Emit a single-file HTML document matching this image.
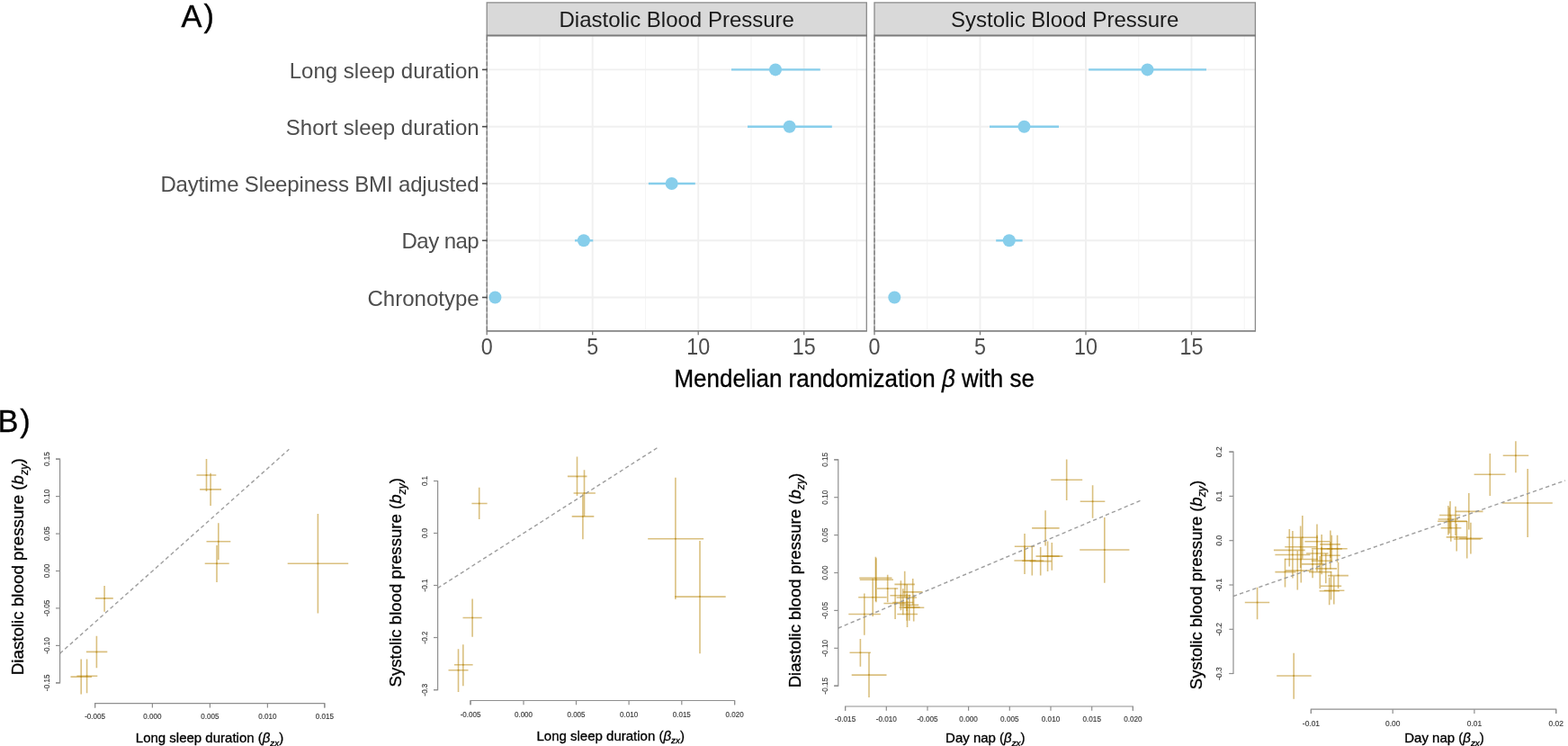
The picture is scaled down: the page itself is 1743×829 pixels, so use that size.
<!DOCTYPE html>
<html lang="en">
<head>
<meta charset="utf-8">
<title>Mendelian randomization of sleep traits and blood pressure</title>
<style>
html,body{margin:0;padding:0;background:#fff;}
body{width:1743px;height:829px;overflow:hidden;}
svg{display:block;}
text{font-family:"Liberation Sans",sans-serif;}
</style>
</head>
<body>
<svg width="1743" height="829" viewBox="0 0 1743 829" font-family='"Liberation Sans", sans-serif'>
<rect width="1743" height="829" fill="#fff"/>
<g id="panel-a">
<rect x="541.2" y="39.4" width="422.1" height="328.5" fill="#fff"/>
<line x1="600.0" y1="39.4" x2="600.0" y2="367.9" stroke="#f5f5f5" stroke-width="1.1"/>
<line x1="717.5" y1="39.4" x2="717.5" y2="367.9" stroke="#f5f5f5" stroke-width="1.1"/>
<line x1="835.0" y1="39.4" x2="835.0" y2="367.9" stroke="#f5f5f5" stroke-width="1.1"/>
<line x1="952.5" y1="39.4" x2="952.5" y2="367.9" stroke="#f5f5f5" stroke-width="1.1"/>
<line x1="658.7" y1="39.4" x2="658.7" y2="367.9" stroke="#f0f0f0" stroke-width="1.9"/>
<line x1="776.2" y1="39.4" x2="776.2" y2="367.9" stroke="#f0f0f0" stroke-width="1.9"/>
<line x1="893.7" y1="39.4" x2="893.7" y2="367.9" stroke="#f0f0f0" stroke-width="1.9"/>
<line x1="541.2" y1="77.4" x2="963.3" y2="77.4" stroke="#f0f0f0" stroke-width="1.9"/>
<line x1="541.2" y1="140.7" x2="963.3" y2="140.7" stroke="#f0f0f0" stroke-width="1.9"/>
<line x1="541.2" y1="204.0" x2="963.3" y2="204.0" stroke="#f0f0f0" stroke-width="1.9"/>
<line x1="541.2" y1="267.3" x2="963.3" y2="267.3" stroke="#f0f0f0" stroke-width="1.9"/>
<line x1="541.2" y1="330.5" x2="963.3" y2="330.5" stroke="#f0f0f0" stroke-width="1.9"/>
<rect x="541.2" y="2.8" width="422.1" height="36.6" fill="#d9d9d9"/>
<path d="M541.2 39.4V2.8H963.3V367.9" fill="none" stroke="#8a8a8a" stroke-width="1.3"/>
<line x1="541.2" y1="39.4" x2="541.2" y2="367.9" stroke="#808080" stroke-width="1"/>
<line x1="540.6" y1="39.4" x2="963.9" y2="39.4" stroke="#7a7a7a" stroke-width="2"/>
<line x1="540.7" y1="367.9" x2="963.9" y2="367.9" stroke="#858585" stroke-width="1.7"/>
<line x1="541.2" y1="40.4" x2="541.2" y2="367.9" stroke="#555" stroke-width="0.8" stroke-dasharray="5 2"/>
<line x1="541.2" y1="367.9" x2="541.2" y2="372.29999999999995" stroke="#7a7a7a" stroke-width="1.3"/>
<text transform="translate(541.2 394.3) scale(0.97 1.05)" font-size="24" fill="#4d4d4d" text-anchor="middle">0</text>
<line x1="658.7" y1="367.9" x2="658.7" y2="372.29999999999995" stroke="#7a7a7a" stroke-width="1.3"/>
<text transform="translate(658.7 394.3) scale(0.97 1.05)" font-size="24" fill="#4d4d4d" text-anchor="middle">5</text>
<line x1="776.2" y1="367.9" x2="776.2" y2="372.29999999999995" stroke="#7a7a7a" stroke-width="1.3"/>
<text transform="translate(776.2 394.3) scale(0.97 1.05)" font-size="24" fill="#4d4d4d" text-anchor="middle">10</text>
<line x1="893.7" y1="367.9" x2="893.7" y2="372.29999999999995" stroke="#7a7a7a" stroke-width="1.3"/>
<text transform="translate(893.7 394.3) scale(0.97 1.05)" font-size="24" fill="#4d4d4d" text-anchor="middle">15</text>
<rect x="972.0" y="39.4" width="423.4" height="328.5" fill="#fff"/>
<line x1="1030.8" y1="39.4" x2="1030.8" y2="367.9" stroke="#f5f5f5" stroke-width="1.1"/>
<line x1="1148.2" y1="39.4" x2="1148.2" y2="367.9" stroke="#f5f5f5" stroke-width="1.1"/>
<line x1="1265.8" y1="39.4" x2="1265.8" y2="367.9" stroke="#f5f5f5" stroke-width="1.1"/>
<line x1="1383.2" y1="39.4" x2="1383.2" y2="367.9" stroke="#f5f5f5" stroke-width="1.1"/>
<line x1="1089.5" y1="39.4" x2="1089.5" y2="367.9" stroke="#f0f0f0" stroke-width="1.9"/>
<line x1="1207.0" y1="39.4" x2="1207.0" y2="367.9" stroke="#f0f0f0" stroke-width="1.9"/>
<line x1="1324.5" y1="39.4" x2="1324.5" y2="367.9" stroke="#f0f0f0" stroke-width="1.9"/>
<line x1="972.0" y1="77.4" x2="1395.4" y2="77.4" stroke="#f0f0f0" stroke-width="1.9"/>
<line x1="972.0" y1="140.7" x2="1395.4" y2="140.7" stroke="#f0f0f0" stroke-width="1.9"/>
<line x1="972.0" y1="204.0" x2="1395.4" y2="204.0" stroke="#f0f0f0" stroke-width="1.9"/>
<line x1="972.0" y1="267.3" x2="1395.4" y2="267.3" stroke="#f0f0f0" stroke-width="1.9"/>
<line x1="972.0" y1="330.5" x2="1395.4" y2="330.5" stroke="#f0f0f0" stroke-width="1.9"/>
<rect x="972.0" y="2.8" width="423.4" height="36.6" fill="#d9d9d9"/>
<path d="M972.0 39.4V2.8H1395.4V367.9" fill="none" stroke="#8a8a8a" stroke-width="1.3"/>
<line x1="972.0" y1="39.4" x2="972.0" y2="367.9" stroke="#808080" stroke-width="1"/>
<line x1="971.4" y1="39.4" x2="1396.0" y2="39.4" stroke="#7a7a7a" stroke-width="2"/>
<line x1="971.5" y1="367.9" x2="1396.0" y2="367.9" stroke="#858585" stroke-width="1.7"/>
<line x1="972.0" y1="40.4" x2="972.0" y2="367.9" stroke="#555" stroke-width="0.8" stroke-dasharray="5 2"/>
<line x1="972.0" y1="367.9" x2="972.0" y2="372.29999999999995" stroke="#7a7a7a" stroke-width="1.3"/>
<text transform="translate(972.0 394.3) scale(0.97 1.05)" font-size="24" fill="#4d4d4d" text-anchor="middle">0</text>
<line x1="1089.5" y1="367.9" x2="1089.5" y2="372.29999999999995" stroke="#7a7a7a" stroke-width="1.3"/>
<text transform="translate(1089.5 394.3) scale(0.97 1.05)" font-size="24" fill="#4d4d4d" text-anchor="middle">5</text>
<line x1="1207.0" y1="367.9" x2="1207.0" y2="372.29999999999995" stroke="#7a7a7a" stroke-width="1.3"/>
<text transform="translate(1207.0 394.3) scale(0.97 1.05)" font-size="24" fill="#4d4d4d" text-anchor="middle">10</text>
<line x1="1324.5" y1="367.9" x2="1324.5" y2="372.29999999999995" stroke="#7a7a7a" stroke-width="1.3"/>
<text transform="translate(1324.5 394.3) scale(0.97 1.05)" font-size="24" fill="#4d4d4d" text-anchor="middle">15</text>
<line x1="536.0" y1="77.4" x2="541.6" y2="77.4" stroke="#4d4d4d" stroke-width="1.6"/>
<text x="532.6" y="86.5" font-size="24" fill="#4d4d4d" text-anchor="end">Long sleep duration</text>
<line x1="536.0" y1="140.7" x2="541.6" y2="140.7" stroke="#4d4d4d" stroke-width="1.6"/>
<text x="532.6" y="149.8" font-size="24" fill="#4d4d4d" text-anchor="end">Short sleep duration</text>
<line x1="536.0" y1="204.0" x2="541.6" y2="204.0" stroke="#4d4d4d" stroke-width="1.6"/>
<text x="532.6" y="213.1" font-size="24" fill="#4d4d4d" text-anchor="end" textLength="354.2" lengthAdjust="spacing">Daytime Sleepiness BMI adjusted</text>
<line x1="536.0" y1="267.3" x2="541.6" y2="267.3" stroke="#4d4d4d" stroke-width="1.6"/>
<text x="532.6" y="276.4" font-size="24" fill="#4d4d4d" text-anchor="end" textLength="86.0" lengthAdjust="spacing">Day nap</text>
<line x1="536.0" y1="330.5" x2="541.6" y2="330.5" stroke="#4d4d4d" stroke-width="1.6"/>
<text x="532.6" y="339.6" font-size="24" fill="#4d4d4d" text-anchor="end">Chronotype</text>
<text x="752.2" y="30.4" font-size="24" fill="#1a1a1a" text-anchor="middle">Diastolic Blood Pressure</text>
<text x="1183.7" y="30.4" font-size="24" fill="#1a1a1a" text-anchor="middle">Systolic Blood Pressure</text>
<line x1="813.0" y1="77.4" x2="911.8" y2="77.4" stroke="#87ceeb" stroke-width="2.4"/>
<circle cx="862.0" cy="77.4" r="7" fill="#87ceeb"/>
<line x1="831.0" y1="140.7" x2="924.8" y2="140.7" stroke="#87ceeb" stroke-width="2.4"/>
<circle cx="877.6" cy="140.7" r="7" fill="#87ceeb"/>
<line x1="720.9" y1="204.0" x2="772.8" y2="204.0" stroke="#87ceeb" stroke-width="2.4"/>
<circle cx="746.7" cy="204.0" r="7" fill="#87ceeb"/>
<line x1="639.0" y1="267.3" x2="659.3" y2="267.3" stroke="#87ceeb" stroke-width="2.4"/>
<circle cx="648.9" cy="267.3" r="7" fill="#87ceeb"/>
<circle cx="550.4" cy="330.5" r="7" fill="#87ceeb"/>
<line x1="1210.2" y1="77.4" x2="1341.0" y2="77.4" stroke="#87ceeb" stroke-width="2.4"/>
<circle cx="1275.5" cy="77.4" r="7" fill="#87ceeb"/>
<line x1="1100.0" y1="140.7" x2="1177.0" y2="140.7" stroke="#87ceeb" stroke-width="2.4"/>
<circle cx="1138.5" cy="140.7" r="7" fill="#87ceeb"/>
<line x1="1107.2" y1="267.3" x2="1136.6" y2="267.3" stroke="#87ceeb" stroke-width="2.4"/>
<circle cx="1121.8" cy="267.3" r="7" fill="#87ceeb"/>
<circle cx="994.3" cy="330.5" r="7" fill="#87ceeb"/>
<text transform="translate(949.7 429.7) scale(1 1.03)" font-size="26" fill="#000" stroke="#000" stroke-width="0.3" text-anchor="middle">Mendelian randomization <tspan font-style="italic">β</tspan> with se</text>
<text transform="translate(201.6 29.9) scale(1 1.045)" font-size="34.4" fill="#000" stroke="#000" stroke-width="0.35">A<tspan dx="2">)</tspan></text>
</g>
<g id="panel-b">
<text transform="translate(-2.6 480.3) scale(1 1.045)" font-size="34.4" fill="#000" stroke="#000" stroke-width="0.35">B<tspan dx="1.8">)</tspan></text>
<g>
<path d="M62.0 510.1H66.6V758.8H62.0" fill="none" stroke="#8f8f8f" stroke-width="1.2"/>
<line x1="62.0" y1="510.1" x2="66.6" y2="510.1" stroke="#8f8f8f" stroke-width="1.2"/>
<text transform="translate(55.3 510.1) rotate(-90) scale(1 1.06)" font-size="8.1" fill="#3a3a3a" stroke="#3a3a3a" stroke-width="0.15" text-anchor="middle">0.15</text>
<line x1="62.0" y1="551.6" x2="66.6" y2="551.6" stroke="#8f8f8f" stroke-width="1.2"/>
<text transform="translate(55.3 551.6) rotate(-90) scale(1 1.06)" font-size="8.1" fill="#3a3a3a" stroke="#3a3a3a" stroke-width="0.15" text-anchor="middle">0.10</text>
<line x1="62.0" y1="593.1" x2="66.6" y2="593.1" stroke="#8f8f8f" stroke-width="1.2"/>
<text transform="translate(55.3 593.1) rotate(-90) scale(1 1.06)" font-size="8.1" fill="#3a3a3a" stroke="#3a3a3a" stroke-width="0.15" text-anchor="middle">0.05</text>
<line x1="62.0" y1="634.5" x2="66.6" y2="634.5" stroke="#8f8f8f" stroke-width="1.2"/>
<text transform="translate(55.3 634.5) rotate(-90) scale(1 1.06)" font-size="8.1" fill="#3a3a3a" stroke="#3a3a3a" stroke-width="0.15" text-anchor="middle">0.00</text>
<line x1="62.0" y1="675.9" x2="66.6" y2="675.9" stroke="#8f8f8f" stroke-width="1.2"/>
<text transform="translate(55.3 675.9) rotate(-90) scale(1 1.06)" font-size="8.1" fill="#3a3a3a" stroke="#3a3a3a" stroke-width="0.15" text-anchor="middle">-0.05</text>
<line x1="62.0" y1="717.4" x2="66.6" y2="717.4" stroke="#8f8f8f" stroke-width="1.2"/>
<text transform="translate(55.3 717.4) rotate(-90) scale(1 1.06)" font-size="8.1" fill="#3a3a3a" stroke="#3a3a3a" stroke-width="0.15" text-anchor="middle">-0.10</text>
<line x1="62.0" y1="758.8" x2="66.6" y2="758.8" stroke="#8f8f8f" stroke-width="1.2"/>
<text transform="translate(55.3 758.8) rotate(-90) scale(1 1.06)" font-size="8.1" fill="#3a3a3a" stroke="#3a3a3a" stroke-width="0.15" text-anchor="middle">-0.15</text>
<path d="M105.6 786.5V781.7H360.8V786.5" fill="none" stroke="#8f8f8f" stroke-width="1.2"/>
<line x1="105.6" y1="781.7" x2="105.6" y2="786.5" stroke="#8f8f8f" stroke-width="1.2"/>
<text transform="translate(105.6 798.9) scale(1 1.06)" font-size="8.1" fill="#3a3a3a" stroke="#3a3a3a" stroke-width="0.15" text-anchor="middle">-0.005</text>
<line x1="169.4" y1="781.7" x2="169.4" y2="786.5" stroke="#8f8f8f" stroke-width="1.2"/>
<text transform="translate(169.4 798.9) scale(1 1.06)" font-size="8.1" fill="#3a3a3a" stroke="#3a3a3a" stroke-width="0.15" text-anchor="middle">0.000</text>
<line x1="233.4" y1="781.7" x2="233.4" y2="786.5" stroke="#8f8f8f" stroke-width="1.2"/>
<text transform="translate(233.4 798.9) scale(1 1.06)" font-size="8.1" fill="#3a3a3a" stroke="#3a3a3a" stroke-width="0.15" text-anchor="middle">0.005</text>
<line x1="297.4" y1="781.7" x2="297.4" y2="786.5" stroke="#8f8f8f" stroke-width="1.2"/>
<text transform="translate(297.4 798.9) scale(1 1.06)" font-size="8.1" fill="#3a3a3a" stroke="#3a3a3a" stroke-width="0.15" text-anchor="middle">0.010</text>
<line x1="360.8" y1="781.7" x2="360.8" y2="786.5" stroke="#8f8f8f" stroke-width="1.2"/>
<text transform="translate(360.8 798.9) scale(1 1.06)" font-size="8.1" fill="#3a3a3a" stroke="#3a3a3a" stroke-width="0.15" text-anchor="middle">0.015</text>
<g stroke="#b8860b" stroke-width="1.6" stroke-opacity="0.52" fill="#b8860b" fill-opacity="0.75">
<path d="M218.5 528.0H240.3M229.5 510.1V545.9"/>
<path d="M222.1 543.9H246.0M234.1 525.7V562.0"/>
<path d="M229.5 601.7H256.3M242.8 581.3V622.1"/>
<path d="M227.7 626.2H254.7M241.0 606.1V647.0"/>
<path d="M319.7 626.2H387.2M353.4 570.9V681.5"/>
<path d="M106.0 664.9H125.8M116.1 650.9V679.8"/>
<path d="M95.9 724.4H119.3M107.4 706.7V742.3"/>
<path d="M78.5 752.1H102.1M90.2 732.6V771.6"/>
<path d="M85.4 751.2H108.3M96.6 732.6V770.3"/>
<circle cx="229.5" cy="528.0" r="1.0" stroke="none"/>
<circle cx="234.1" cy="543.9" r="1.0" stroke="none"/>
<circle cx="242.8" cy="601.7" r="1.0" stroke="none"/>
<circle cx="241.0" cy="626.2" r="1.0" stroke="none"/>
<circle cx="353.4" cy="626.2" r="1.0" stroke="none"/>
<circle cx="116.1" cy="664.9" r="1.0" stroke="none"/>
<circle cx="107.4" cy="724.4" r="1.0" stroke="none"/>
<circle cx="90.2" cy="752.1" r="1.0" stroke="none"/>
<circle cx="96.6" cy="751.2" r="1.0" stroke="none"/>
</g>
<line x1="66.6" y1="726.2" x2="321.3" y2="499.3" stroke="#949494" stroke-opacity="0.9" stroke-width="1.4" stroke-dasharray="4.3 3.2"/>
<text x="233.0" y="825.0" font-size="15" fill="#000" stroke="#000" stroke-width="0.32" text-anchor="middle">Long sleep duration (<tspan font-style="italic">β</tspan><tspan font-style="italic" font-size="9.9" dy="3.6">zx</tspan><tspan dy="-3.6">)</tspan></text>
<text transform="translate(26.4 629.8) rotate(-90)" font-size="18.8" fill="#000" stroke="#000" stroke-width="0.3" text-anchor="middle">Diastolic blood pressure (<tspan font-style="italic">b</tspan><tspan font-style="italic" font-size="12.4" dy="4.5">zy</tspan><tspan dy="-4.5">)</tspan></text>
</g>
<g>
<path d="M482.0 534.5H486.6V766.6H482.0" fill="none" stroke="#8f8f8f" stroke-width="1.2"/>
<line x1="482.0" y1="534.5" x2="486.6" y2="534.5" stroke="#8f8f8f" stroke-width="1.2"/>
<text transform="translate(475.3 534.5) rotate(-90) scale(1 1.06)" font-size="8.0" fill="#3a3a3a" stroke="#3a3a3a" stroke-width="0.15" text-anchor="middle">0.1</text>
<line x1="482.0" y1="592.5" x2="486.6" y2="592.5" stroke="#8f8f8f" stroke-width="1.2"/>
<text transform="translate(475.3 592.5) rotate(-90) scale(1 1.06)" font-size="8.0" fill="#3a3a3a" stroke="#3a3a3a" stroke-width="0.15" text-anchor="middle">0.0</text>
<line x1="482.0" y1="650.5" x2="486.6" y2="650.5" stroke="#8f8f8f" stroke-width="1.2"/>
<text transform="translate(475.3 650.5) rotate(-90) scale(1 1.06)" font-size="8.0" fill="#3a3a3a" stroke="#3a3a3a" stroke-width="0.15" text-anchor="middle">-0.1</text>
<line x1="482.0" y1="708.5" x2="486.6" y2="708.5" stroke="#8f8f8f" stroke-width="1.2"/>
<text transform="translate(475.3 708.5) rotate(-90) scale(1 1.06)" font-size="8.0" fill="#3a3a3a" stroke="#3a3a3a" stroke-width="0.15" text-anchor="middle">-0.2</text>
<line x1="482.0" y1="766.6" x2="486.6" y2="766.6" stroke="#8f8f8f" stroke-width="1.2"/>
<text transform="translate(475.3 766.6) rotate(-90) scale(1 1.06)" font-size="8.0" fill="#3a3a3a" stroke="#3a3a3a" stroke-width="0.15" text-anchor="middle">-0.3</text>
<path d="M523.0 783.3V778.5H816.6V783.3" fill="none" stroke="#8f8f8f" stroke-width="1.2"/>
<line x1="523.0" y1="778.5" x2="523.0" y2="783.3" stroke="#8f8f8f" stroke-width="1.2"/>
<text transform="translate(523.0 796.6) scale(1 1.06)" font-size="8.0" fill="#3a3a3a" stroke="#3a3a3a" stroke-width="0.15" text-anchor="middle">-0.005</text>
<line x1="582.0" y1="778.5" x2="582.0" y2="783.3" stroke="#8f8f8f" stroke-width="1.2"/>
<text transform="translate(582.0 796.6) scale(1 1.06)" font-size="8.0" fill="#3a3a3a" stroke="#3a3a3a" stroke-width="0.15" text-anchor="middle">0.000</text>
<line x1="640.5" y1="778.5" x2="640.5" y2="783.3" stroke="#8f8f8f" stroke-width="1.2"/>
<text transform="translate(640.5 796.6) scale(1 1.06)" font-size="8.0" fill="#3a3a3a" stroke="#3a3a3a" stroke-width="0.15" text-anchor="middle">0.005</text>
<line x1="699.1" y1="778.5" x2="699.1" y2="783.3" stroke="#8f8f8f" stroke-width="1.2"/>
<text transform="translate(699.1 796.6) scale(1 1.06)" font-size="8.0" fill="#3a3a3a" stroke="#3a3a3a" stroke-width="0.15" text-anchor="middle">0.010</text>
<line x1="757.8" y1="778.5" x2="757.8" y2="783.3" stroke="#8f8f8f" stroke-width="1.2"/>
<text transform="translate(757.8 796.6) scale(1 1.06)" font-size="8.0" fill="#3a3a3a" stroke="#3a3a3a" stroke-width="0.15" text-anchor="middle">0.015</text>
<line x1="816.6" y1="778.5" x2="816.6" y2="783.3" stroke="#8f8f8f" stroke-width="1.2"/>
<text transform="translate(816.6 796.6) scale(1 1.06)" font-size="8.0" fill="#3a3a3a" stroke="#3a3a3a" stroke-width="0.15" text-anchor="middle">0.020</text>
<g stroke="#b8860b" stroke-width="1.6" stroke-opacity="0.52" fill="#b8860b" fill-opacity="0.75">
<path d="M524.4 559.5H541.6M532.7 541.8V576.9"/>
<path d="M630.9 529.4H652.5M641.5 507.4V551.0"/>
<path d="M637.6 548.0H661.9M649.5 522.3V573.9"/>
<path d="M635.7 573.9H660.3M647.9 548.7V599.2"/>
<path d="M720.2 598.7H782.1M750.9 530.8V666.1"/>
<path d="M750.0 663.1H806.7M778.0 601.0V726.2"/>
<path d="M514.5 686.5H535.7M525.1 665.4V707.8"/>
<path d="M504.9 738.8H525.6M514.8 716.3V762.2"/>
<path d="M498.5 744.8H520.5M509.5 721.2V769.1"/>
<circle cx="532.7" cy="559.5" r="1.0" stroke="none"/>
<circle cx="641.5" cy="529.4" r="1.0" stroke="none"/>
<circle cx="649.5" cy="548.0" r="1.0" stroke="none"/>
<circle cx="647.9" cy="573.9" r="1.0" stroke="none"/>
<circle cx="750.9" cy="598.7" r="1.0" stroke="none"/>
<circle cx="778.0" cy="663.1" r="1.0" stroke="none"/>
<circle cx="525.1" cy="686.5" r="1.0" stroke="none"/>
<circle cx="514.8" cy="738.8" r="1.0" stroke="none"/>
<circle cx="509.5" cy="744.8" r="1.0" stroke="none"/>
</g>
<line x1="486.6" y1="653.5" x2="731.6" y2="497.0" stroke="#949494" stroke-opacity="0.9" stroke-width="1.4" stroke-dasharray="4.3 3.2"/>
<text x="678.7" y="822.6" font-size="15" fill="#000" stroke="#000" stroke-width="0.32" text-anchor="middle">Long sleep duration (<tspan font-style="italic">β</tspan><tspan font-style="italic" font-size="9.9" dy="3.6">zx</tspan><tspan dy="-3.6">)</tspan></text>
<text transform="translate(446.2 647.2) rotate(-90)" font-size="18.6" fill="#000" stroke="#000" stroke-width="0.3" text-anchor="middle">Systolic blood pressure (<tspan font-style="italic">b</tspan><tspan font-style="italic" font-size="12.3" dy="4.5">zy</tspan><tspan dy="-4.5">)</tspan></text>
</g>
<g>
<path d="M927.2 510.8H931.8V762.2H927.2" fill="none" stroke="#8f8f8f" stroke-width="1.2"/>
<line x1="927.2" y1="510.8" x2="931.8" y2="510.8" stroke="#8f8f8f" stroke-width="1.2"/>
<text transform="translate(919.9 510.8) rotate(-90) scale(1 1.06)" font-size="8.2" fill="#3a3a3a" stroke="#3a3a3a" stroke-width="0.15" text-anchor="middle">0.15</text>
<line x1="927.2" y1="552.7" x2="931.8" y2="552.7" stroke="#8f8f8f" stroke-width="1.2"/>
<text transform="translate(919.9 552.7) rotate(-90) scale(1 1.06)" font-size="8.2" fill="#3a3a3a" stroke="#3a3a3a" stroke-width="0.15" text-anchor="middle">0.10</text>
<line x1="927.2" y1="594.6" x2="931.8" y2="594.6" stroke="#8f8f8f" stroke-width="1.2"/>
<text transform="translate(919.9 594.6) rotate(-90) scale(1 1.06)" font-size="8.2" fill="#3a3a3a" stroke="#3a3a3a" stroke-width="0.15" text-anchor="middle">0.05</text>
<line x1="927.2" y1="636.5" x2="931.8" y2="636.5" stroke="#8f8f8f" stroke-width="1.2"/>
<text transform="translate(919.9 636.5) rotate(-90) scale(1 1.06)" font-size="8.2" fill="#3a3a3a" stroke="#3a3a3a" stroke-width="0.15" text-anchor="middle">0.00</text>
<line x1="927.2" y1="678.4" x2="931.8" y2="678.4" stroke="#8f8f8f" stroke-width="1.2"/>
<text transform="translate(919.9 678.4) rotate(-90) scale(1 1.06)" font-size="8.2" fill="#3a3a3a" stroke="#3a3a3a" stroke-width="0.15" text-anchor="middle">-0.05</text>
<line x1="927.2" y1="720.3" x2="931.8" y2="720.3" stroke="#8f8f8f" stroke-width="1.2"/>
<text transform="translate(919.9 720.3) rotate(-90) scale(1 1.06)" font-size="8.2" fill="#3a3a3a" stroke="#3a3a3a" stroke-width="0.15" text-anchor="middle">-0.10</text>
<line x1="927.2" y1="762.2" x2="931.8" y2="762.2" stroke="#8f8f8f" stroke-width="1.2"/>
<text transform="translate(919.9 762.2) rotate(-90) scale(1 1.06)" font-size="8.2" fill="#3a3a3a" stroke="#3a3a3a" stroke-width="0.15" text-anchor="middle">-0.15</text>
<path d="M939.6 789.8V785.0H1259.4V789.8" fill="none" stroke="#8f8f8f" stroke-width="1.2"/>
<line x1="939.6" y1="785.0" x2="939.6" y2="789.8" stroke="#8f8f8f" stroke-width="1.2"/>
<text transform="translate(939.6 802.3) scale(1 1.06)" font-size="8.2" fill="#3a3a3a" stroke="#3a3a3a" stroke-width="0.15" text-anchor="middle">-0.015</text>
<line x1="985.3" y1="785.0" x2="985.3" y2="789.8" stroke="#8f8f8f" stroke-width="1.2"/>
<text transform="translate(985.3 802.3) scale(1 1.06)" font-size="8.2" fill="#3a3a3a" stroke="#3a3a3a" stroke-width="0.15" text-anchor="middle">-0.010</text>
<line x1="1031.0" y1="785.0" x2="1031.0" y2="789.8" stroke="#8f8f8f" stroke-width="1.2"/>
<text transform="translate(1031.0 802.3) scale(1 1.06)" font-size="8.2" fill="#3a3a3a" stroke="#3a3a3a" stroke-width="0.15" text-anchor="middle">-0.005</text>
<line x1="1076.6" y1="785.0" x2="1076.6" y2="789.8" stroke="#8f8f8f" stroke-width="1.2"/>
<text transform="translate(1076.6 802.3) scale(1 1.06)" font-size="8.2" fill="#3a3a3a" stroke="#3a3a3a" stroke-width="0.15" text-anchor="middle">0.000</text>
<line x1="1122.3" y1="785.0" x2="1122.3" y2="789.8" stroke="#8f8f8f" stroke-width="1.2"/>
<text transform="translate(1122.3 802.3) scale(1 1.06)" font-size="8.2" fill="#3a3a3a" stroke="#3a3a3a" stroke-width="0.15" text-anchor="middle">0.005</text>
<line x1="1168.0" y1="785.0" x2="1168.0" y2="789.8" stroke="#8f8f8f" stroke-width="1.2"/>
<text transform="translate(1168.0 802.3) scale(1 1.06)" font-size="8.2" fill="#3a3a3a" stroke="#3a3a3a" stroke-width="0.15" text-anchor="middle">0.010</text>
<line x1="1213.7" y1="785.0" x2="1213.7" y2="789.8" stroke="#8f8f8f" stroke-width="1.2"/>
<text transform="translate(1213.7 802.3) scale(1 1.06)" font-size="8.2" fill="#3a3a3a" stroke="#3a3a3a" stroke-width="0.15" text-anchor="middle">0.015</text>
<line x1="1259.4" y1="785.0" x2="1259.4" y2="789.8" stroke="#8f8f8f" stroke-width="1.2"/>
<text transform="translate(1259.4 802.3) scale(1 1.06)" font-size="8.2" fill="#3a3a3a" stroke="#3a3a3a" stroke-width="0.15" text-anchor="middle">0.020</text>
<g stroke="#b8860b" stroke-width="1.6" stroke-opacity="0.52" fill="#b8860b" fill-opacity="0.75">
<path d="M955.3 642.4H991.5M973.4 618.8V668.0"/>
<path d="M955.8 644.2H993.0M973.9 620.3V669.2"/>
<path d="M974.9 654.0H998.3M986.7 638.8V669.2"/>
<path d="M954.2 663.8H985.7M970.2 642.7V685.1"/>
<path d="M943.3 682.5H978.8M960.8 659.6V705.7"/>
<path d="M982.4 670.5H1006.7M995.1 653.6V688.0"/>
<path d="M994.4 649.4H1016.9M1005.7 634.7V663.7"/>
<path d="M989.4 661.8H1012.5M1001.4 645.3V678.2"/>
<path d="M1003.8 657.9H1025.5M1014.7 643.0V672.4"/>
<path d="M996.6 664.0H1019.0M1008.2 649.2V678.9"/>
<path d="M992.2 669.5H1015.4M1003.8 654.3V683.2"/>
<path d="M999.5 675.0H1022.6M1008.2 660.1V689.8"/>
<path d="M1004.6 675.3H1027.3M1015.7 660.8V690.5"/>
<path d="M997.3 682.5H1020.0M1008.5 668.0V697.0"/>
<path d="M1000.2 672.4H1021.2M1010.8 660.8V689.8"/>
<path d="M944.5 725.3H967.9M956.4 710.1V740.7"/>
<path d="M946.7 750.1H985.5M966.0 725.3V774.9"/>
<path d="M1168.3 533.2H1203.2M1185.7 510.6V556.0"/>
<path d="M1200.7 557.3H1228.3M1214.6 539.2V575.7"/>
<path d="M1147.1 586.9H1177.6M1162.1 567.2V606.6"/>
<path d="M1200.2 611.0H1255.4M1227.8 574.9V647.7"/>
<path d="M1127.8 607.3H1150.2M1139.0 593.1V622.6"/>
<path d="M1127.4 623.0H1151.5M1139.0 608.1V638.0"/>
<path d="M1136.1 623.2H1160.2M1147.3 607.1V639.4"/>
<path d="M1144.7 623.6H1168.9M1156.7 608.1V639.4"/>
<path d="M1151.5 618.1H1177.6M1164.6 601.4V635.1"/>
<path d="M1158.3 618.1H1181.4M1169.3 602.9V633.8"/>
<circle cx="973.4" cy="642.4" r="1.0" stroke="none"/>
<circle cx="973.9" cy="644.2" r="1.0" stroke="none"/>
<circle cx="986.7" cy="654.0" r="1.0" stroke="none"/>
<circle cx="970.2" cy="663.8" r="1.0" stroke="none"/>
<circle cx="960.8" cy="682.5" r="1.0" stroke="none"/>
<circle cx="995.1" cy="670.5" r="1.0" stroke="none"/>
<circle cx="1005.7" cy="649.4" r="1.0" stroke="none"/>
<circle cx="1001.4" cy="661.8" r="1.0" stroke="none"/>
<circle cx="1014.7" cy="657.9" r="1.0" stroke="none"/>
<circle cx="1008.2" cy="664.0" r="1.0" stroke="none"/>
<circle cx="1003.8" cy="669.5" r="1.0" stroke="none"/>
<circle cx="1008.2" cy="675.0" r="1.0" stroke="none"/>
<circle cx="1015.7" cy="675.3" r="1.0" stroke="none"/>
<circle cx="1008.5" cy="682.5" r="1.0" stroke="none"/>
<circle cx="1010.8" cy="672.4" r="1.0" stroke="none"/>
<circle cx="956.4" cy="725.3" r="1.0" stroke="none"/>
<circle cx="966.0" cy="750.1" r="1.0" stroke="none"/>
<circle cx="1185.7" cy="533.2" r="1.0" stroke="none"/>
<circle cx="1214.6" cy="557.3" r="1.0" stroke="none"/>
<circle cx="1162.1" cy="586.9" r="1.0" stroke="none"/>
<circle cx="1227.8" cy="611.0" r="1.0" stroke="none"/>
<circle cx="1139.0" cy="607.3" r="1.0" stroke="none"/>
<circle cx="1139.0" cy="623.0" r="1.0" stroke="none"/>
<circle cx="1147.3" cy="623.2" r="1.0" stroke="none"/>
<circle cx="1156.7" cy="623.6" r="1.0" stroke="none"/>
<circle cx="1164.6" cy="618.1" r="1.0" stroke="none"/>
<circle cx="1169.3" cy="618.1" r="1.0" stroke="none"/>
</g>
<line x1="931.8" y1="698.0" x2="1268.3" y2="556.0" stroke="#949494" stroke-opacity="0.9" stroke-width="1.4" stroke-dasharray="4.3 3.2"/>
<text x="1095.3" y="824.9" font-size="15" fill="#000" stroke="#000" stroke-width="0.32" text-anchor="middle">Day nap (<tspan font-style="italic">β</tspan><tspan font-style="italic" font-size="9.9" dy="3.6">zx</tspan><tspan dy="-3.6">)</tspan></text>
<text transform="translate(889.5 645.0) rotate(-90)" font-size="18.6" fill="#000" stroke="#000" stroke-width="0.3" text-anchor="middle">Diastolic blood pressure (<tspan font-style="italic">b</tspan><tspan font-style="italic" font-size="12.3" dy="4.5">zy</tspan><tspan dy="-4.5">)</tspan></text>
</g>
<g>
<path d="M1366.4 502.1H1371.0V748.5H1366.4" fill="none" stroke="#8f8f8f" stroke-width="1.2"/>
<line x1="1366.4" y1="502.1" x2="1371.0" y2="502.1" stroke="#8f8f8f" stroke-width="1.2"/>
<text transform="translate(1358.0 502.1) rotate(-90) scale(1 1.06)" font-size="8.4" fill="#3a3a3a" stroke="#3a3a3a" stroke-width="0.15" text-anchor="middle">0.2</text>
<line x1="1366.4" y1="551.4" x2="1371.0" y2="551.4" stroke="#8f8f8f" stroke-width="1.2"/>
<text transform="translate(1358.0 551.4) rotate(-90) scale(1 1.06)" font-size="8.4" fill="#3a3a3a" stroke="#3a3a3a" stroke-width="0.15" text-anchor="middle">0.1</text>
<line x1="1366.4" y1="600.7" x2="1371.0" y2="600.7" stroke="#8f8f8f" stroke-width="1.2"/>
<text transform="translate(1358.0 600.7) rotate(-90) scale(1 1.06)" font-size="8.4" fill="#3a3a3a" stroke="#3a3a3a" stroke-width="0.15" text-anchor="middle">0.0</text>
<line x1="1366.4" y1="650.0" x2="1371.0" y2="650.0" stroke="#8f8f8f" stroke-width="1.2"/>
<text transform="translate(1358.0 650.0) rotate(-90) scale(1 1.06)" font-size="8.4" fill="#3a3a3a" stroke="#3a3a3a" stroke-width="0.15" text-anchor="middle">-0.1</text>
<line x1="1366.4" y1="699.3" x2="1371.0" y2="699.3" stroke="#8f8f8f" stroke-width="1.2"/>
<text transform="translate(1358.0 699.3) rotate(-90) scale(1 1.06)" font-size="8.4" fill="#3a3a3a" stroke="#3a3a3a" stroke-width="0.15" text-anchor="middle">-0.2</text>
<line x1="1366.4" y1="748.5" x2="1371.0" y2="748.5" stroke="#8f8f8f" stroke-width="1.2"/>
<text transform="translate(1358.0 748.5) rotate(-90) scale(1 1.06)" font-size="8.4" fill="#3a3a3a" stroke="#3a3a3a" stroke-width="0.15" text-anchor="middle">-0.3</text>
<path d="M1457.4 793.0V788.2H1729.7V793.0" fill="none" stroke="#8f8f8f" stroke-width="1.2"/>
<line x1="1457.4" y1="788.2" x2="1457.4" y2="793.0" stroke="#8f8f8f" stroke-width="1.2"/>
<text transform="translate(1457.4 806.6) scale(1 1.06)" font-size="8.4" fill="#3a3a3a" stroke="#3a3a3a" stroke-width="0.15" text-anchor="middle">-0.01</text>
<line x1="1548.2" y1="788.2" x2="1548.2" y2="793.0" stroke="#8f8f8f" stroke-width="1.2"/>
<text transform="translate(1548.2 806.6) scale(1 1.06)" font-size="8.4" fill="#3a3a3a" stroke="#3a3a3a" stroke-width="0.15" text-anchor="middle">0.00</text>
<line x1="1638.9" y1="788.2" x2="1638.9" y2="793.0" stroke="#8f8f8f" stroke-width="1.2"/>
<text transform="translate(1638.9 806.6) scale(1 1.06)" font-size="8.4" fill="#3a3a3a" stroke="#3a3a3a" stroke-width="0.15" text-anchor="middle">0.01</text>
<line x1="1729.7" y1="788.2" x2="1729.7" y2="793.0" stroke="#8f8f8f" stroke-width="1.2"/>
<text transform="translate(1729.7 806.6) scale(1 1.06)" font-size="8.4" fill="#3a3a3a" stroke="#3a3a3a" stroke-width="0.15" text-anchor="middle">0.02</text>
<g stroke="#b8860b" stroke-width="1.6" stroke-opacity="0.52" fill="#b8860b" fill-opacity="0.75">
<path d="M1670.7 506.2H1699.2M1684.9 490.2V525.3"/>
<path d="M1638.6 527.3H1673.5M1656.3 503.9V551.0"/>
<path d="M1670.0 559.0H1725.8M1698.2 521.1V596.9"/>
<path d="M1383.8 669.5H1411.2M1397.6 652.8V688.3"/>
<path d="M1419.2 751.0H1457.7M1438.2 725.7V776.7"/>
<path d="M1415.9 611.4H1450.7M1433.3 587.9V629.5"/>
<path d="M1417.4 616.5H1456.5M1436.9 590.1V642.5"/>
<path d="M1430.1 597.3H1465.1M1447.8 573.0V620.8"/>
<path d="M1428.2 607.8H1463.7M1445.7 584.6V630.9"/>
<path d="M1428.2 621.5H1465.1M1446.3 597.6V647.6"/>
<path d="M1417.4 635.6H1440.5M1428.5 620.8V652.4"/>
<path d="M1429.0 634.1H1457.9M1442.3 612.1V655.5"/>
<path d="M1450.4 601.7H1478.2M1464.0 582.4V622.2"/>
<path d="M1452.1 615.0H1476.7M1464.0 594.7V635.3"/>
<path d="M1447.0 626.9H1472.4M1459.1 610.7V642.2"/>
<path d="M1457.9 609.7H1481.1M1469.2 594.0V626.6"/>
<path d="M1457.9 623.3H1481.1M1469.2 607.8V638.2"/>
<path d="M1455.0 635.6H1480.3M1467.3 617.9V654.1"/>
<path d="M1462.2 631.9H1486.1M1473.8 615.0V648.3"/>
<path d="M1467.3 604.9H1490.0M1478.9 589.4V620.1"/>
<path d="M1468.0 609.9H1491.9M1480.3 594.7V625.1"/>
<path d="M1475.3 609.7H1497.7M1486.6 594.7V625.1"/>
<path d="M1468.0 617.2H1489.8M1478.9 602.0V632.4"/>
<path d="M1476.0 639.6H1498.9M1487.6 625.1V654.1"/>
<path d="M1468.0 651.2H1491.2M1479.6 635.3V666.4"/>
<path d="M1466.6 656.7H1489.0M1477.7 641.8V672.2"/>
<path d="M1471.7 656.3H1494.4M1482.8 640.3V671.5"/>
<path d="M1600.1 572.5H1623.2M1612.0 557.1V587.3"/>
<path d="M1598.7 577.0H1621.0M1609.9 562.0V594.5"/>
<path d="M1598.1 579.2H1630.7M1611.1 563.8V592.7"/>
<path d="M1607.1 579.5H1630.7M1618.0 562.8V595.1"/>
<path d="M1601.7 586.7H1624.4M1612.8 572.2V601.8"/>
<path d="M1618.0 568.4H1648.5M1632.8 548.1V588.5"/>
<path d="M1607.7 596.9H1630.7M1619.2 581.9V612.6"/>
<path d="M1615.9 599.0H1646.1M1630.7 578.9V620.5"/>
<path d="M1622.2 598.2H1648.2M1634.9 580.7V615.6"/>
<circle cx="1684.9" cy="506.2" r="1.0" stroke="none"/>
<circle cx="1656.3" cy="527.3" r="1.0" stroke="none"/>
<circle cx="1698.2" cy="559.0" r="1.0" stroke="none"/>
<circle cx="1397.6" cy="669.5" r="1.0" stroke="none"/>
<circle cx="1438.2" cy="751.0" r="1.0" stroke="none"/>
<circle cx="1433.3" cy="611.4" r="1.0" stroke="none"/>
<circle cx="1436.9" cy="616.5" r="1.0" stroke="none"/>
<circle cx="1447.8" cy="597.3" r="1.0" stroke="none"/>
<circle cx="1445.7" cy="607.8" r="1.0" stroke="none"/>
<circle cx="1446.3" cy="621.5" r="1.0" stroke="none"/>
<circle cx="1428.5" cy="635.6" r="1.0" stroke="none"/>
<circle cx="1442.3" cy="634.1" r="1.0" stroke="none"/>
<circle cx="1464.0" cy="601.7" r="1.0" stroke="none"/>
<circle cx="1464.0" cy="615.0" r="1.0" stroke="none"/>
<circle cx="1459.1" cy="626.9" r="1.0" stroke="none"/>
<circle cx="1469.2" cy="609.7" r="1.0" stroke="none"/>
<circle cx="1469.2" cy="623.3" r="1.0" stroke="none"/>
<circle cx="1467.3" cy="635.6" r="1.0" stroke="none"/>
<circle cx="1473.8" cy="631.9" r="1.0" stroke="none"/>
<circle cx="1478.9" cy="604.9" r="1.0" stroke="none"/>
<circle cx="1480.3" cy="609.9" r="1.0" stroke="none"/>
<circle cx="1486.6" cy="609.7" r="1.0" stroke="none"/>
<circle cx="1478.9" cy="617.2" r="1.0" stroke="none"/>
<circle cx="1487.6" cy="639.6" r="1.0" stroke="none"/>
<circle cx="1479.6" cy="651.2" r="1.0" stroke="none"/>
<circle cx="1477.7" cy="656.7" r="1.0" stroke="none"/>
<circle cx="1482.8" cy="656.3" r="1.0" stroke="none"/>
<circle cx="1612.0" cy="572.5" r="1.0" stroke="none"/>
<circle cx="1609.9" cy="577.0" r="1.0" stroke="none"/>
<circle cx="1611.1" cy="579.2" r="1.0" stroke="none"/>
<circle cx="1618.0" cy="579.5" r="1.0" stroke="none"/>
<circle cx="1612.8" cy="586.7" r="1.0" stroke="none"/>
<circle cx="1632.8" cy="568.4" r="1.0" stroke="none"/>
<circle cx="1619.2" cy="596.9" r="1.0" stroke="none"/>
<circle cx="1630.7" cy="599.0" r="1.0" stroke="none"/>
<circle cx="1634.9" cy="598.2" r="1.0" stroke="none"/>
</g>
<line x1="1371.0" y1="662.5" x2="1740.0" y2="534.0" stroke="#949494" stroke-opacity="0.9" stroke-width="1.4" stroke-dasharray="4.3 3.2"/>
<text x="1605.5" y="825.3" font-size="15" fill="#000" stroke="#000" stroke-width="0.32" text-anchor="middle">Day nap (<tspan font-style="italic">β</tspan><tspan font-style="italic" font-size="9.9" dy="3.6">zx</tspan><tspan dy="-3.6">)</tspan></text>
<text transform="translate(1335.6 650.0) rotate(-90)" font-size="18.6" fill="#000" stroke="#000" stroke-width="0.3" text-anchor="middle">Systolic blood pressure (<tspan font-style="italic">b</tspan><tspan font-style="italic" font-size="12.3" dy="4.5">zy</tspan><tspan dy="-4.5">)</tspan></text>
</g>
</g>
</svg>
</body>
</html>
